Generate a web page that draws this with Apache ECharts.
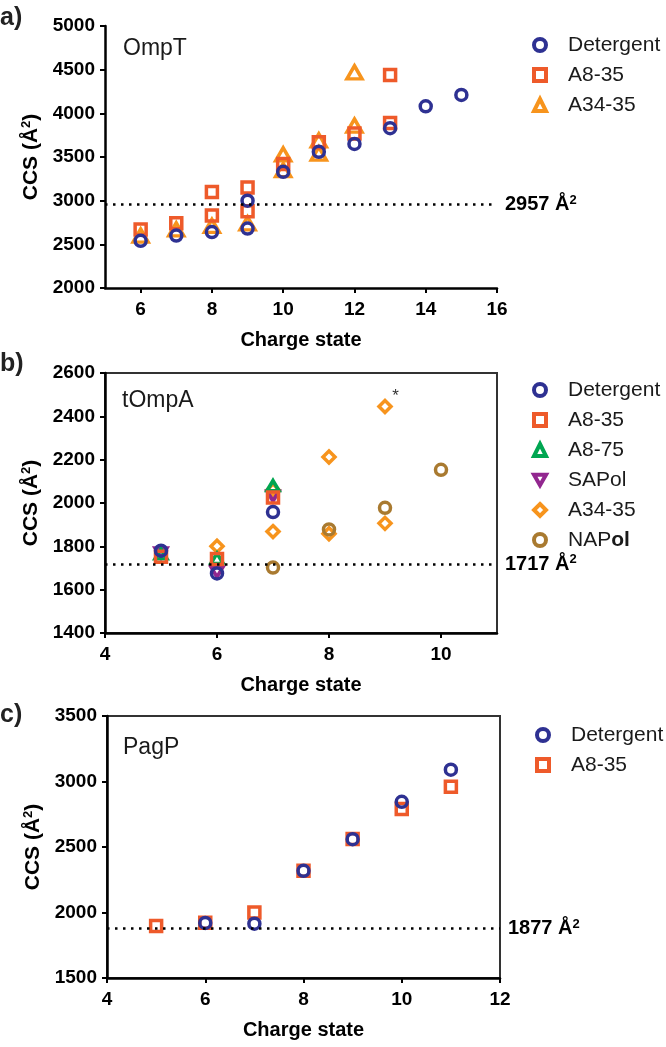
<!DOCTYPE html>
<html><head><meta charset="utf-8">
<script src="https://cdn.jsdelivr.net/npm/echarts@6/dist/echarts.min.js"></script>
<style>html,body{margin:0;padding:0;background:#fff}#c{width:666px;height:1047px}</style>
</head><body><div id="c"></div>
<script>
// ---------- data ----------
// Panel a) OmpT  [charge state, CCS]
const aDetergent = [[6,2540],[7,2600],[8,2640],[9,2680],[9,3000],[10,3330],[11,3560],[12,3650],[13,3830],[14,4080],[15,4210]];
const aA835 = [[6,2670],[7,2740],[8,2830],[8,3100],[9,2880],[9,3150],[10,3420],[11,3670],[12,3770],[13,3890],[13,4440]];
const aA3435 = [[6,2600],[7,2670],[8,2710],[9,2740],[10,3350],[10,3530],[11,3540],[11,3690],[12,3860],[12,4470]];
// Panel b) tOmpA
const bDetergent = [[5,1780],[6,1675],[7,1958]];
const bA835 = [[5,1752],[6,1742],[7,2025]];
const bA875 = [[5,1765],[6,1745],[7,2080]];
const bSAPol = [[5,1770],[6,1682],[7,2032]];
const bA3435 = [[6,1800],[7,1868],[7,2060],[8,2212],[8,1858],[9,2445],[9,1906]];
const bNAPol = [[7,1702],[8,1878],[9,1978],[10,2153]];
// Panel c) PagP
const cDetergent = [[6,1920],[7,1915],[8,2318],[9,2560],[10,2845],[11,3090]];
const cA835 = [[5,1897],[6,1922],[7,2000],[8,2318],[9,2562],[10,2790],[11,2960]];
// reference lines
const refLines = [2957, 1717, 1877];
// axes
const panelLabels = ['a)', 'b)', 'c)'];
const proteins = ['OmpT', 'tOmpA', 'PagP'];
const xRanges = [[5,16],[4,11],[4,12]];
const xTicks = [[6,8,10,12,14,16],[4,6,8,10],[4,6,8,10,12]];
const yRanges = [[2000,5000,500],[1400,2600,200],[1500,3500,500]];
const asteriskPoint = [9,2445];

// ---------- styling ----------
const FONT = '"Liberation Sans", Arial, Helvetica, sans-serif';
const COL = {det:'#2E3192', a835:'#EE5A2A', a3435:'#F7941D', a875:'#00A651', sapol:'#92278F', napol:'#A97A30'};
const INV_TRI = 'path://M0,0 L10,0 L5,8.66 Z';

const grids = [
  {left:105, top:26, width:392, height:262},
  {left:105, top:373, width:392, height:260, show:true, borderColor:'#333', borderWidth:2},
  {left:107, top:716, width:393, height:262, show:true, borderColor:'#333', borderWidth:2}
];

const supRich = {
  s:{fontSize:13, fontWeight:'bold', fontFamily:FONT, color:'#000', verticalAlign:'top', lineHeight:12}
};

const plain = v => String(v);

const xAxes = grids.map((g,i)=>({
  type:'value', gridIndex:i, min:xRanges[i][0], max:xRanges[i][1], interval:1,
  axisLine:{show:true, onZero:false, lineStyle:{color:'#000', width:2.5}},
  axisTick:{show:true, length:5, customValues:xTicks[i], lineStyle:{color:'#000', width:2}},
  axisLabel:{show:true, customValues:xTicks[i], formatter:plain, fontSize:19, fontWeight:'bold', color:'#000', fontFamily:FONT, margin:12},
  splitLine:{show:false},
  name:'Charge state', nameLocation:'middle', nameGap:42,
  nameTextStyle:{fontSize:20, fontWeight:'bold', color:'#000', fontFamily:FONT}
}));

const yAxes = grids.map((g,i)=>({
  type:'value', gridIndex:i, min:yRanges[i][0], max:yRanges[i][1], interval:yRanges[i][2],
  axisLine:{show:true, onZero:false, lineStyle:{color:'#000', width:2.5}},
  axisTick:{show:true, length:5, lineStyle:{color:'#000', width:2}},
  axisLabel:{formatter:plain, fontSize:19, fontWeight:'bold', color:'#000', fontFamily:FONT, margin:10},
  splitLine:{show:false},
  name:'CCS (Å{s|2})', nameLocation:'middle', nameGap:56,
  nameTextStyle:{fontSize:21, fontWeight:'bold', color:'#000', fontFamily:FONT, lineHeight:22,
    rich:Object.assign({}, supRich)}
}));

function sc(name, data, gi, symbol, size, color, bw, extra){
  return Object.assign({
    type:'scatter', name:name, xAxisIndex:gi, yAxisIndex:gi, data:data,
    symbol:symbol, symbolSize:size,
    itemStyle:{color:'rgba(255,255,255,0)', borderColor:color, borderWidth:bw, opacity:1},
    emphasis:{disabled:true}, animation:false
  }, extra||{});
}

function refLine(v){
  return {
    silent:true, symbol:['none','none'], animation:false,
    lineStyle:{color:'#000', width:2.5, type:[2.5,5.5]},
    label:{show:true, position:'end', distance:8, formatter:'{a|'+v+' Å}{s|2}',
      rich:{a:{fontSize:20, fontWeight:'bold', fontFamily:FONT, color:'#000', lineHeight:22}, s:supRich.s}},
    data:[{yAxis:v}]
  };
}

// b) data with asterisk on outlier
const bA3435Items = bA3435.map(p => (p[0]===asteriskPoint[0] && p[1]===asteriskPoint[1])
  ? {value:p, label:{show:true, formatter:'*', position:[15,-11], fontSize:17, color:'#333', fontFamily:FONT}}
  : p);

const series = [
  // a
  sc('a:A34-35', aA3435, 0, 'triangle', [15,13], COL.a3435, 3.5),
  sc('a:A8-35', aA835, 0, 'rect', 11, COL.a835, 3.5),
  sc('a:Detergent', aDetergent, 0, 'circle', 11, COL.det, 3.5, {markLine:refLine(refLines[0])}),
  // b
  sc('b:A34-35', bA3435Items, 1, 'diamond', 12, COL.a3435, 3.5),
  sc('b:NAPol', bNAPol, 1, 'circle', 11, COL.napol, 3.5),
  sc('b:SAPol', bSAPol, 1, INV_TRI, [12,10], COL.sapol, 3.5),
  sc('b:A8-75', bA875, 1, 'triangle', [12,10], COL.a875, 3.5),
  sc('b:A8-35', bA835, 1, 'rect', 11, COL.a835, 3.5),
  sc('b:Detergent', bDetergent, 1, 'circle', 11, COL.det, 3.5, {markLine:refLine(refLines[1])}),
  // c
  sc('c:A8-35', cA835, 2, 'rect', 11, COL.a835, 3.5),
  sc('c:Detergent', cDetergent, 2, 'circle', 11, COL.det, 3.5, {markLine:refLine(refLines[2])})
];

function legend(names, left, top){
  return {
    data:names, orient:'vertical', left:left, top:top, padding:0,
    itemWidth:12, itemHeight:12, itemGap:8,
    selectedMode:false,
    itemStyle:{borderWidth:4},
    formatter:function(n){ const s = n.split(':')[1]; return s==='NAPol' ? 'NAP{b|ol}' : s; },
    textStyle:{fontSize:21, color:'#1a1a1a', fontFamily:FONT, lineHeight:22, padding:[0,0,0,17],
      rich:{b:{fontSize:21, fontWeight:'bold', fontFamily:FONT, color:'#1a1a1a', lineHeight:22}}}
  };
}

const titles = [];
const labelTops = [6, 352, 703];
const protTops = [37, 389, 736];
const protLefts = [123, 122, 123];
for (let i=0;i<3;i++){
  titles.push({text:panelLabels[i], left:0, top:labelTops[i], padding:0,
    textStyle:{fontSize:25, fontWeight:'bold', color:'#222', fontFamily:FONT}});
  titles.push({text:proteins[i], left:protLefts[i], top:protTops[i], padding:0,
    textStyle:{fontSize:23, fontWeight:'normal', color:'#1a1a1a', fontFamily:FONT}});
}

const chart = echarts.init(document.getElementById('c'), null, {renderer:'canvas'});
chart.setOption({
  backgroundColor:'#fff',
  animation:false,
  title:titles,
  grid:grids,
  xAxis:xAxes,
  yAxis:yAxes,
  legend:[
    legend(['a:Detergent','a:A8-35','a:A34-35'], 532, 34),
    legend(['b:Detergent','b:A8-35','b:A8-75','b:SAPol','b:A34-35','b:NAPol'], 532, 379),
    legend(['c:Detergent','c:A8-35'], 535, 724)
  ],
  series:series
});
</script>
</body></html>
